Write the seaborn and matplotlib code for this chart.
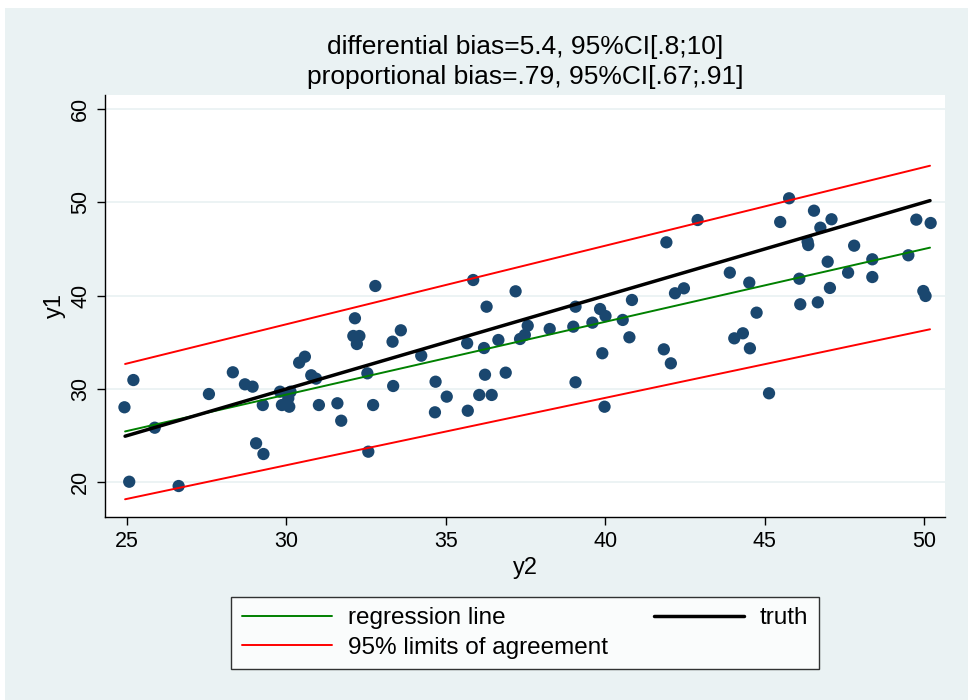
import matplotlib
matplotlib.use("Agg")
import matplotlib.pyplot as plt
import seaborn as sns
import pandas as pd
from matplotlib.patches import Rectangle
from matplotlib.lines import Line2D

# ---- data ----
y2 = [24.92, 25.20, 25.07, 25.87, 26.62, 27.57, 28.32, 28.70, 28.94, 29.05,
      29.28, 29.26, 32.79, 32.15, 32.10, 32.29, 32.21, 33.59, 33.33, 34.23,
      30.58, 30.40, 30.78, 30.93, 32.54, 33.35, 34.68, 29.80, 30.13, 29.86,
      30.09, 30.06, 31.02, 31.60, 31.72, 32.72, 34.66, 32.57, 35.86, 37.19,
      36.28, 39.07, 39.84, 40.01, 37.57, 38.26, 39.00, 39.60, 37.48, 37.33,
      36.65, 35.67, 36.20, 39.91, 36.23, 36.88, 39.07, 35.03, 36.05, 36.44,
      35.69, 39.98, 42.90, 41.92, 43.91, 44.52, 42.19, 42.47, 40.84, 40.55,
      44.75, 40.76, 44.05, 44.32, 44.54, 41.84, 42.06, 45.14, 45.77, 45.49,
      46.55, 47.10, 46.75, 46.35, 46.37, 47.81, 49.76, 50.21, 46.98, 48.38,
      49.51, 46.09, 47.62, 48.38, 47.05, 46.12, 46.67, 49.98, 50.05]
y1 = [28.04, 30.96, 20.06, 25.85, 19.60, 29.46, 31.79, 30.50, 30.25, 24.18,
      23.03, 28.28, 41.04, 37.58, 35.68, 35.68, 34.82, 36.29, 35.07, 33.57,
      33.46, 32.82, 31.47, 31.11, 31.68, 30.32, 30.78, 29.71, 29.71, 28.28,
      28.10, 29.00, 28.28, 28.47, 26.60, 28.28, 27.50, 23.28, 41.68, 40.47,
      38.82, 38.82, 38.57, 37.82, 36.78, 36.43, 36.68, 37.11, 35.79, 35.36,
      35.25, 34.90, 34.39, 33.83, 31.53, 31.75, 30.72, 29.18, 29.36, 29.36,
      27.67, 28.10, 48.11, 45.72, 42.47, 41.40, 40.26, 40.79, 39.54, 37.40,
      38.18, 35.54, 35.43, 35.97, 34.36, 34.25, 32.75, 29.54, 50.44, 47.90,
      49.11, 48.19, 47.29, 45.79, 45.43, 45.36, 48.15, 47.79, 43.64, 43.90,
      44.33, 41.82, 42.47, 42.00, 40.83, 39.08, 39.29, 40.50, 39.97]

line_x = [24.94, 50.19]
truth_y = [24.94, 50.19]
regression_y = [25.45, 45.15]
loa_upper_y = [32.68, 53.93]
loa_lower_y = [18.18, 36.40]

title_lines = ["differential bias=5.4, 95%CI[.8;10]",
               "proportional bias=.79, 95%CI[.67;.91]"]
x_ticks = [25, 30, 35, 40, 45, 50]
y_ticks = [20, 30, 40, 50, 60]
legend_labels = ["regression line", "95% limits of agreement", "truth"]

# ---- styling ----
BG = "#EAF2F3"
NAVY = "#1A476F"
sns.set_style("white")
plt.rcParams['font.family'] = ['Liberation Sans', 'DejaVu Sans']
plt.rcParams['text.color'] = 'black'
plt.rcParams['axes.labelcolor'] = 'black'
plt.rcParams['xtick.color'] = 'black'
plt.rcParams['ytick.color'] = 'black'

fig = plt.figure(figsize=(9.7, 7.0), dpi=100)
fig.patch.set_facecolor("white")
fig.add_artist(Rectangle((5 / 970, 0), (968 - 5) / 970, 1 - 8 / 700,
                         transform=fig.transFigure, facecolor=BG,
                         edgecolor="none", zorder=-10))

ax = fig.add_axes([105 / 970, 1 - 517 / 700, (945 - 105) / 970, (517 - 95) / 700])
ax.set_facecolor("white")

pts = pd.DataFrame({"y2": y2, "y1": y1})
lines = pd.DataFrame({"x": line_x, "truth": truth_y, "reg": regression_y,
                      "up": loa_upper_y, "lo": loa_lower_y})

sns.scatterplot(data=pts, x="y2", y="y1", ax=ax, color=NAVY, s=78,
                edgecolor="none", zorder=3, legend=False)
sns.lineplot(data=lines, x="x", y="reg", ax=ax, color="#008000", lw=1.4, zorder=4)
sns.lineplot(data=lines, x="x", y="up", ax=ax, color="#FF0000", lw=1.4, zorder=4)
sns.lineplot(data=lines, x="x", y="lo", ax=ax, color="#FF0000", lw=1.4, zorder=4)
sns.lineplot(data=lines, x="x", y="truth", ax=ax, color="black", lw=2.5, zorder=5)

ax.set_xlim(24.31, 50.66)
ax.set_ylim(16.28, 61.51)
ax.set_xticks(x_ticks)
ax.set_yticks(y_ticks)
ax.grid(axis="y", color=BG, lw=1.3)
ax.grid(axis="x", visible=False)
ax.set_axisbelow(True)
for s in ["top", "right"]:
    ax.spines[s].set_visible(False)
for s in ["left", "bottom"]:
    ax.spines[s].set_color("black")
    ax.spines[s].set_linewidth(1.0)
ax.tick_params(axis="both", direction="out", length=6, width=1.0,
               color="black", labelsize=15.5, labelcolor="black", pad=4)
ax.tick_params(axis="y", left=True, labelrotation=90)
ax.tick_params(axis="x", bottom=True)
for lab in ax.get_yticklabels():
    lab.set_va("center")

ax.set_xlabel("y2", fontsize=17, labelpad=4, color="black")
ax.set_ylabel("y1", fontsize=17, labelpad=3, color="black")

fig.text(525 / 970, 1 - 47 / 700, title_lines[0], ha="center", va="center",
         fontsize=19, color="black")
fig.text(525 / 970, 1 - 77 / 700, title_lines[1], ha="center", va="center",
         fontsize=19, color="black")

handles = [Line2D([], [], color="#008000", lw=1.4),
           Line2D([], [], color="#FF0000", lw=1.4),
           Line2D([], [], color="black", lw=2.5)]
leg = fig.legend(handles, legend_labels, ncol=2, loc="center",
                 bbox_to_anchor=(525 / 970, 1 - 633 / 700),
                 frameon=True, fancybox=False, fontsize=17.5,
                 handlelength=3.7, handletextpad=0.66, columnspacing=1.9,
                 labelspacing=0.32, borderpad=0.42)
leg.get_frame().set_edgecolor("black")
leg.get_frame().set_linewidth(1.0)
leg.get_frame().set_facecolor("white")
for t in leg.get_texts():
    t.set_color("black")

fig.savefig("out.png", dpi=100, facecolor=fig.get_facecolor())
